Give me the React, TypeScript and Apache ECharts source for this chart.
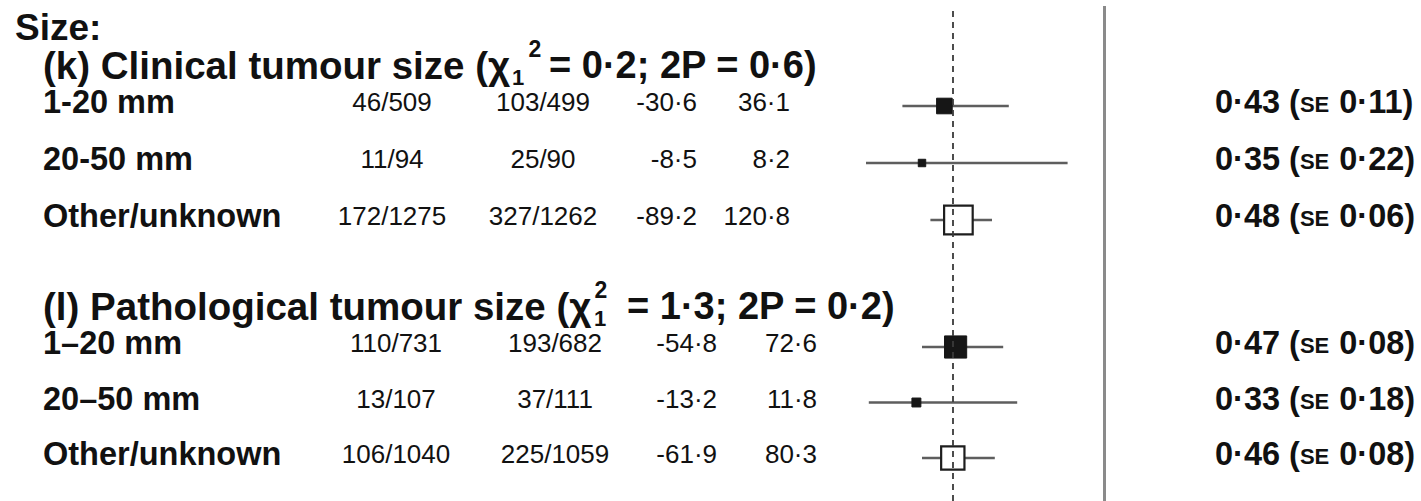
import React, { useEffect, useRef } from 'react';
import * as echarts from 'echarts';

// ---------- data ----------
const sectionTitle = 'Size:';
const groupTitles = ['(k) Clinical tumour size (χ', '(l) Pathological tumour size (χ'];
const chiSquare = [0.2, 1.3];
const twoP = [0.6, 0.2];

const labelsK = ['1-20 mm', '20-50 mm', 'Other/unknown'];
const trtEventsK = [46, 11, 172];
const trtTotalK = [509, 94, 1275];
const ctlEventsK = [103, 25, 327];
const ctlTotalK = [499, 90, 1262];
const oeK = [-30.6, -8.5, -89.2];
const varK = [36.1, 8.2, 120.8];
const ratioK = [0.43, 0.35, 0.48];
const seK = [0.11, 0.22, 0.06];
const ciLowK = [0.28, 0.15, 0.38];
const ciHighK = [0.66, 0.87, 0.6];
const openK = [0, 0, 1];

const labelsL = ['1–20 mm', '20–50 mm', 'Other/unknown'];
const trtEventsL = [110, 13, 106];
const trtTotalL = [731, 107, 1040];
const ctlEventsL = [193, 37, 225];
const ctlTotalL = [682, 111, 1059];
const oeL = [-54.8, -13.2, -61.9];
const varL = [72.6, 11.8, 80.3];
const ratioL = [0.47, 0.33, 0.46];
const seL = [0.08, 0.18, 0.08];
const ciLowL = [0.35, 0.16, 0.35];
const ciHighL = [0.64, 0.69, 0.61];
const openL = [0, 0, 1];

const overallRatio = 0.46;
const nullRatio = 1;

// ---------- layout / style ----------
const FONT = '"Liberation Sans", Arial, Helvetica, sans-serif';
const INK = '#111111';
const PLOT_LEFT = 824;
const PLOT_WIDTH = 280;
const SIZE_FACTOR = 2.6;

const fmt = (v: number, d: number) => v.toFixed(d).replace('.', '·');

const groups = [
  {
    labels: labelsK, te: trtEventsK, tt: trtTotalK, ce: ctlEventsK, ct: ctlTotalK,
    oe: oeK, vr: varK, ratio: ratioK, se: seK, lo: ciLowK, hi: ciHighK, open: openK,
    top: 77.5, height: 171,
    cols: { c1: 392, c2: 543, c3: 697, c4: 790 },
    supX: 535, subX: 518, restX: 549,
  },
  {
    labels: labelsL, te: trtEventsL, tt: trtTotalL, ce: ctlEventsL, ct: ctlTotalL,
    oe: oeL, vr: varL, ratio: ratioL, se: seL, lo: ciLowL, hi: ciHighL, open: openL,
    top: 319.25, height: 166.5,
    cols: { c1: 396, c2: 555, c3: 717, c4: 817 },
    supX: 601, subX: 600, restX: 627,
  },
];

const txt = (text: string, x: number, y: number, size: number, bold: boolean, align: string) => ({
  type: 'text',
  x,
  y,
  z: 100,
  silent: true,
  style: {
    text,
    fill: INK,
    fontFamily: FONT,
    fontSize: size,
    fontWeight: bold ? 'bold' : 'normal',
    align,
    textAlign: align,
    verticalAlign: 'middle',
    textVerticalAlign: 'middle',
  },
});

export default function App() {
  const ref = useRef<HTMLDivElement>(null);

  useEffect(() => {
    if (!ref.current) return;
    const chart = echarts.init(ref.current, undefined, { renderer: 'svg' });

    const grids: any[] = groups.map((g) => ({
      left: PLOT_LEFT, width: PLOT_WIDTH, top: g.top, height: g.height,
    }));
    grids.push({ left: PLOT_LEFT, width: PLOT_WIDTH, top: 6, bottom: 0 });

    const xAxes = grids.map((_, i) => ({
      type: 'value', gridIndex: i, min: 0, max: 1, show: false,
    }));
    const yAxes: any[] = groups.map((g, i) => ({
      type: 'category', gridIndex: i, data: g.labels, inverse: true, show: false,
    }));
    yAxes.push({ type: 'value', gridIndex: 2, min: 0, max: 1, show: false });

    const series: any[] = groups.map((g, gi) => ({
      type: 'custom',
      xAxisIndex: gi,
      yAxisIndex: gi,
      encode: { x: 0, y: 1 },
      data: g.labels.map((_, i) => [g.ratio[i], i, g.lo[i], g.hi[i], g.vr[i], g.open[i]]),
      renderItem: (params: any, api: any) => {
        const yi = api.value(1);
        const lo = api.coord([api.value(2), yi]);
        const hi = api.coord([api.value(3), yi]);
        const c = api.coord([api.value(0), yi]);
        const s = SIZE_FACTOR * Math.sqrt(api.value(4));
        const open = api.value(5) === 1;
        return {
          type: 'group',
          children: [
            {
              type: 'line',
              shape: { x1: lo[0], y1: lo[1], x2: hi[0], y2: hi[1] },
              style: { stroke: '#5e5e5e', lineWidth: 2.5 },
            },
            {
              type: 'rect',
              shape: { x: c[0] - s / 2, y: c[1] - s / 2, width: s, height: s },
              style: open
                ? { fill: '#ffffff', stroke: '#1e1e1e', lineWidth: 2.2 }
                : { fill: '#161616', stroke: '#161616', lineWidth: 1 },
            },
          ],
        };
      },
    }));

    series.push({
      type: 'scatter',
      xAxisIndex: 2,
      yAxisIndex: 2,
      data: [],
      silent: true,
      markLine: {
        silent: true,
        symbol: ['none', 'none'],
        label: { show: false },
        data: [
          { xAxis: nullRatio, lineStyle: { color: '#8a8a8a', width: 3, type: 'solid' } },
          { xAxis: overallRatio, lineStyle: { color: '#3a3a3a', width: 1.8, type: [6, 5] } },
        ],
      },
    });

    chart.setOption({
      animation: false,
      backgroundColor: '#ffffff',
      grid: grids,
      xAxis: xAxes,
      yAxis: yAxes,
      series,
    });

    const graphics: any[] = [];
    graphics.push(txt(sectionTitle, 15, 27, 37, true, 'left'));

    groups.forEach((g, gi) => {
      const ys = g.labels.map((_, i) => (chart.convertToPixel({ gridIndex: gi }, [0, i]) as number[])[1]);
      const titleY = ys[0] - 41;
      graphics.push(txt(groupTitles[gi], 43, titleY, 38.5, true, 'left'));
      graphics.push(txt('2', g.supX, titleY - 16, 23, true, 'center'));
      graphics.push(txt('1', g.subX, titleY + 12, 22, true, 'center'));
      graphics.push(
        txt(`= ${fmt(chiSquare[gi], 1)}; 2P = ${fmt(twoP[gi], 1)})`, g.restX, titleY, 38, true, 'left')
      );
      g.labels.forEach((lab, i) => {
        const y = ys[i] - 4;
        graphics.push(txt(lab, 43, y, 32.5, true, 'left'));
        graphics.push(txt(`${g.te[i]}/${g.tt[i]}`, g.cols.c1, y, 26, false, 'center'));
        graphics.push(txt(`${g.ce[i]}/${g.ct[i]}`, g.cols.c2, y, 26, false, 'center'));
        graphics.push(txt(fmt(g.oe[i], 1), g.cols.c3, y, 26, false, 'right'));
        graphics.push(txt(fmt(g.vr[i], 1), g.cols.c4, y, 26, false, 'right'));
        graphics.push({
          type: 'text',
          x: 1215,
          y,
          z: 100,
          silent: true,
          style: {
            text: `{a|${fmt(g.ratio[i], 2)} (}{b|SE}{a| ${fmt(g.se[i], 2)})}`,
            align: 'left',
            textAlign: 'left',
            verticalAlign: 'middle',
            textVerticalAlign: 'middle',
            rich: {
              a: { fontFamily: FONT, fontSize: 32.5, fontWeight: 'bold', fill: INK, color: INK },
              b: {
                fontFamily: FONT, fontSize: 22, fontWeight: 'bold', fill: INK, color: INK,
                verticalAlign: 'bottom', padding: [0, 1, 3, 0],
              },
            },
          },
        });
      });
    });

    chart.setOption({ graphic: graphics });

    return () => chart.dispose();
  }, []);

  return (
    <div
      ref={ref}
      style={{ position: 'fixed', left: 0, top: 0, width: 1421, height: 501, background: '#fff' }}
    />
  );
}
